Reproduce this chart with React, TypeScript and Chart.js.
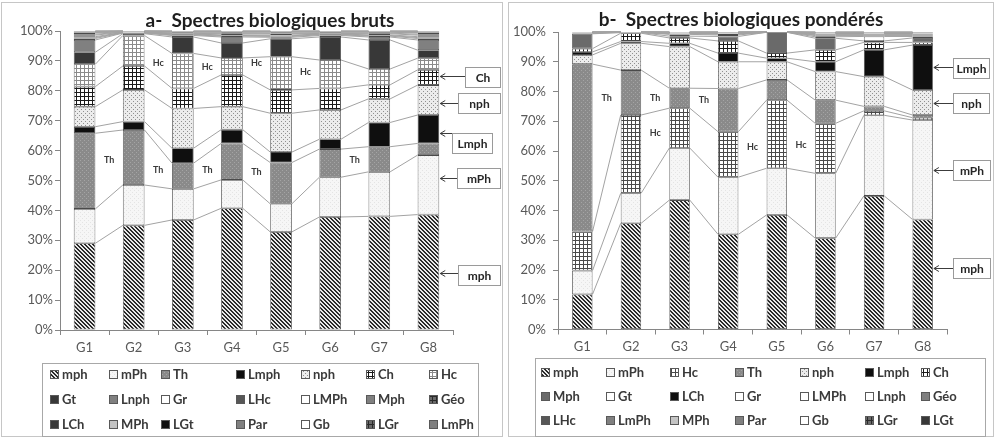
import React, { useEffect, useRef } from 'react';
import { Chart, registerables } from 'chart.js';

Chart.register(...registerables);
Chart.defaults.font.family = 'Lato, "Open Sans", sans-serif';

// ---------- categories ----------
const GROUPS = ['G1', 'G2', 'G3', 'G4', 'G5', 'G6', 'G7', 'G8'];

// ---------- a- Spectres biologiques bruts (stack order bottom -> top) ----------
const A_NAMES = ['mph', 'mPh', 'Th', 'Lmph', 'nph', 'Ch', 'Hc', 'Gt', 'Lnph', 'Gr', 'LHc', 'LMPh', 'Mph', 'Géo', 'LCh', 'MPh', 'LGt', 'Par', 'Gb', 'LGr', 'LmPh'];
const A_mph = [29, 35, 36.8, 40.7, 32.8, 37.8, 38, 38.6];
const A_mPh = [11.5, 13.5, 10.4, 9.5, 9.4, 13.3, 14.9, 19.9];
const A_Th = [25.3, 18.4, 8.6, 12.2, 13.8, 9.4, 8.4, 3.9];
const A_Lmph = [2.2, 2.8, 5, 4.6, 3.5, 3.3, 8.1, 9.5];
const A_nph = [6.7, 10.6, 13.3, 7.7, 13, 9.8, 7.9, 10];
const A_Ch = [6.7, 8, 6.7, 10.6, 7.8, 7.2, 4.7, 5.1];
const A_Hc = [7.5, 10.2, 11.7, 5.7, 11.1, 9.5, 5.3, 3.9];
const A_Gt = [4, 0.6, 5.5, 5, 6, 7.7, 9.7, 2.7];
const A_Lnph = [4.1, 0.2, 0.5, 2, 0.5, 0.5, 1, 3.4];
const A_Gr = [0.5, 0.1, 0.2, 0.3, 0.3, 0.2, 0.3, 0.5];
const A_LHc = [0.3, 0.1, 0.2, 0.2, 0.2, 0.2, 0.2, 0.3];
const A_LMPh = [0.3, 0.05, 0.1, 0.2, 0.2, 0.1, 0.2, 0.3];
const A_Mph = [0.5, 0.1, 0.2, 0.4, 0.4, 0.2, 0.4, 0.5];
const A_Geo = [0.3, 0.05, 0.1, 0.2, 0.2, 0.1, 0.2, 0.3];
const A_LCh = [0.4, 0.1, 0.3, 0.3, 0.4, 0.3, 0.3, 0.4];
const A_MPh = [0.2, 0.05, 0.1, 0.1, 0.1, 0.1, 0.1, 0.2];
const A_LGt = [0.2, 0.05, 0.1, 0.1, 0.1, 0.1, 0.1, 0.2];
const A_Par = [0.1, 0.03, 0.05, 0.05, 0.05, 0.05, 0.05, 0.1];
const A_Gb = [0.1, 0.03, 0.05, 0.05, 0.05, 0.05, 0.05, 0.1];
const A_LGr = [0.05, 0.02, 0.05, 0.05, 0.05, 0.05, 0.05, 0.05];
const A_LmPh = [0.05, 0.02, 0.05, 0.05, 0.05, 0.05, 0.05, 0.05];
const A_VALUES = [A_mph, A_mPh, A_Th, A_Lmph, A_nph, A_Ch, A_Hc, A_Gt, A_Lnph, A_Gr, A_LHc, A_LMPh, A_Mph, A_Geo, A_LCh, A_MPh, A_LGt, A_Par, A_Gb, A_LGr, A_LmPh];

// ---------- b- Spectres biologiques pondérés ----------
const B_NAMES = ['mph', 'mPh', 'Hc', 'Th', 'nph', 'Lmph', 'Ch', 'Mph', 'Gt', 'LCh', 'Gr', 'LMPh', 'Lnph', 'Géo', 'LHc', 'LmPh', 'MPh', 'Par', 'Gb', 'LGr', 'LGt'];
const B_mph = [11.8, 35.7, 43.5, 32, 38.5, 30.7, 44.9, 37];
const B_mPh = [8, 10.1, 17.5, 19.2, 15.7, 21.8, 27.1, 33.4];
const B_Hc = [13.1, 26.3, 13.4, 15.3, 22.9, 16.8, 1.5, 0.8];
const B_Th = [56.3, 15.1, 6.7, 14.5, 6.8, 7.8, 1.5, 0.9];
const B_nph = [3.1, 9, 14, 9, 6.1, 9.6, 10, 8.4];
const B_Lmph = [1, 0.6, 1.1, 2.9, 1.2, 3.3, 9, 15.1];
const B_Ch = [1.1, 2.8, 1.8, 4.1, 1.7, 4, 2.5, 0.9];
const B_Mph = [5, 0.2, 0.6, 1.5, 7, 3.9, 0.5, 1.5];
const B_Gt = [0.2, 0.05, 0.6, 0.5, 0.02, 0.5, 1.5, 0.5];
const B_LCh = [0.1, 0.03, 0.2, 0.3, 0.02, 0.4, 0.3, 0.3];
const B_Gr = [0.05, 0.02, 0.1, 0.1, 0.01, 0.2, 0.2, 0.2];
const B_LMPh = [0.05, 0.02, 0.1, 0.1, 0.01, 0.2, 0.2, 0.2];
const B_Lnph = [0.05, 0.02, 0.1, 0.1, 0.01, 0.2, 0.2, 0.2];
const B_Geo = [0.03, 0.01, 0.05, 0.1, 0.005, 0.1, 0.1, 0.1];
const B_LHc = [0.03, 0.01, 0.05, 0.1, 0.005, 0.1, 0.1, 0.1];
const B_LmPh = [0.03, 0.01, 0.05, 0.05, 0.005, 0.1, 0.1, 0.1];
const B_MPh = [0.02, 0.01, 0.05, 0.05, 0.005, 0.1, 0.1, 0.1];
const B_Par = [0.01, 0.005, 0.025, 0.025, 0.0025, 0.05, 0.05, 0.05];
const B_Gb = [0.01, 0.005, 0.025, 0.025, 0.0025, 0.05, 0.05, 0.05];
const B_LGr = [0.01, 0.005, 0.025, 0.025, 0.0025, 0.05, 0.05, 0.05];
const B_LGt = [0.01, 0.005, 0.025, 0.025, 0.0025, 0.05, 0.05, 0.05];
const B_VALUES = [B_mph, B_mPh, B_Hc, B_Th, B_nph, B_Lmph, B_Ch, B_Mph, B_Gt, B_LCh, B_Gr, B_LMPh, B_Lnph, B_Geo, B_LHc, B_LmPh, B_MPh, B_Par, B_Gb, B_LGr, B_LGt];

// ---------- annotations (values in % of the y scale) ----------
const A_CALLOUT_LABELS = ['Ch', 'nph', 'Lmph', 'mPh', 'mph'];
const A_CALLOUT_ARROW = [85, 76, 66, 50.8, 19];
const A_CALLOUT_BOX = [84.6, 75.9, 62.7, 51, 18.4];
const B_CALLOUT_LABELS = ['Lmph', 'nph', 'mPh', 'mph'];
const B_CALLOUT_ARROW = [88.2, 76.1, 53.6, 20.7];
const B_CALLOUT_BOX = [88, 76.1, 53.6, 20.7];

const A_GAP_TEXT = ['Th', 'Th', 'Th', 'Th', 'Th', 'Hc', 'Hc', 'Hc', 'Hc'];
const A_GAP_AFTER = [1, 2, 3, 4, 6, 2, 3, 4, 5];
const A_GAP_VALUE = [56.9, 53.5, 53.5, 52.8, 56.9, 89.3, 88, 89.3, 86.3];
const B_GAP_TEXT = ['Th', 'Th', 'Th', 'Hc', 'Hc', 'Hc'];
const B_GAP_AFTER = [1, 2, 3, 2, 4, 5];
const B_GAP_VALUE = [77.8, 77.8, 77.1, 66, 61.3, 62];

// ---------- styles ----------
const STYLE_A: Record<string, string> = {
  mph: 'diag', mPh: 'light', Th: 'gray', Lmph: 'black', nph: 'dots', Ch: 'gridDark', Hc: 'gridLight',
  Gt: 'dark', Lnph: 'midgray', Gr: 'white', LHc: 'darkgray', LMPh: 'white', Mph: 'midgray', 'Géo': 'darkgrid',
  LCh: 'dark', MPh: 'lightgray', LGt: 'black', Par: 'midgray', Gb: 'white', LGr: 'darkgrid', LmPh: 'midgray',
};
const STYLE_B: Record<string, string> = {
  mph: 'diag', mPh: 'light', Hc: 'gridMed', Th: 'gray', nph: 'dots', Lmph: 'black', Ch: 'gridDark',
  Mph: 'mph2', Gt: 'white', LCh: 'black', Gr: 'white', LMPh: 'white', Lnph: 'white', 'Géo': 'midgray',
  LHc: 'darkgray', LmPh: 'midgray', MPh: 'lightgray', Par: 'midgray', Gb: 'white', LGr: 'darkgrid', LGt: 'dark',
};

function makeFill(ctx: CanvasRenderingContext2D, kind: string): string | CanvasPattern {
  const solid: Record<string, string> = {
    black: '#0f0f0f', dark: '#383838', darkgray: '#575757', midgray: '#808080',
    lightgray: '#c4c4c4', white: '#ffffff', mph2: '#6a6a6a',
  };
  if (solid[kind]) return solid[kind];
  const s = 4;
  const t = document.createElement('canvas');
  t.width = s; t.height = s;
  const g = t.getContext('2d')!;
  const bg = (c: string) => { g.fillStyle = c; g.fillRect(0, 0, s, s); };
  const px = (x: number, y: number, c: string) => { g.fillStyle = c; g.fillRect(x, y, 1, 1); };
  const grid = (c: string) => { g.fillStyle = c; g.fillRect(0, 0, s, 1); g.fillRect(0, 0, 1, s); };
  switch (kind) {
    case 'diag':
      bg('#e9e9e9');
      for (let y = 0; y < s; y++) for (let x = 0; x < s; x++) if (((x - y) % 4 + 4) % 4 < 2) px(x, y, '#2a2a2a');
      break;
    case 'light':
      bg('#f6f6f6'); px(0, 0, '#e4e4e4'); px(2, 2, '#e4e4e4');
      break;
    case 'gray':
      bg('#8a8a8a'); px(0, 0, '#a4a4a4'); px(2, 2, '#a4a4a4');
      break;
    case 'dots':
      bg('#ececec'); px(1, 1, '#909090'); px(3, 3, '#909090');
      break;
    case 'gridDark':
      bg('#ffffff'); grid('#1a1a1a');
      break;
    case 'gridLight':
      bg('#ffffff'); grid('#8a8a8a');
      break;
    case 'gridMed':
      bg('#ffffff'); grid('#4a4a4a');
      break;
    case 'darkgrid':
      bg('#6a6a6a'); grid('#2a2a2a');
      break;
    default:
      bg('#ffffff');
  }
  return ctx.createPattern(t, 'repeat')!;
}

type Panel = {
  names: string[];
  values: number[][];
  styles: Record<string, string>;
  width: number; height: number;
  areaLeft: number; areaTop: number; areaRight: number; areaBottom: number;
  barPct: number; yTickPad: number;
  title: string; titleX: number; titleBase: number;
  frame: number[];
  legendBox: number[]; legendCols: number[]; legendRows: number[];
  callLabels: string[]; callArrow: number[]; callBox: number[];
  callBoxX: number[]; callBoxW: number[];
  gapText: string[]; gapAfter: number[]; gapValue: number[];
};

const X_AXIS_H = 30;

const PANEL_A: Panel = {
  names: A_NAMES, values: A_VALUES, styles: STYLE_A,
  width: 504, height: 438,
  areaLeft: 60, areaTop: 31, areaRight: 453, areaBottom: 330,
  barPct: 0.44, yTickPad: 2,
  title: 'a-  Spectres biologiques bruts', titleX: 270, titleBase: 27,
  frame: [1.5, 2.5, 501, 434],
  legendBox: [42, 363, 436, 73], legendCols: [50, 109, 161, 236, 301, 366, 429], legendRows: [374, 399, 424],
  callLabels: A_CALLOUT_LABELS, callArrow: A_CALLOUT_ARROW, callBox: A_CALLOUT_BOX,
  callBoxX: [465, 458, 452, 457, 458], callBoxW: [35, 42, 40, 43, 42],
  gapText: A_GAP_TEXT, gapAfter: A_GAP_AFTER, gapValue: A_GAP_VALUE,
};

const PANEL_B: Panel = {
  names: B_NAMES, values: B_VALUES, styles: STYLE_B,
  width: 488, height: 438,
  areaLeft: 51, areaTop: 32, areaRight: 440, areaBottom: 329.5,
  barPct: 0.42, yTickPad: 7,
  title: 'b-  Spectres biologiques pondérés', titleX: 234, titleBase: 26,
  frame: [1.5, 2.5, 485, 434],
  legendBox: [28, 358, 450, 78], legendCols: [34, 99, 163, 228, 293, 358, 414], legendRows: [372, 396, 420],
  callLabels: B_CALLOUT_LABELS, callArrow: B_CALLOUT_ARROW, callBox: B_CALLOUT_BOX,
  callBoxX: [446, 446, 446, 446], callBoxW: [36, 36, 37, 37],
  gapText: B_GAP_TEXT, gapAfter: B_GAP_AFTER, gapValue: B_GAP_VALUE,
};

function extrasPlugin(p: Panel) {
  return {
    id: 'extras',
    beforeDraw(chart: any) {
      const c = chart.ctx;
      c.save();
      c.fillStyle = '#ffffff';
      c.fillRect(0, 0, chart.width, chart.height);
      c.restore();
    },
    beforeDatasetsDraw(chart: any) {
      const c = chart.ctx;
      c.save();
      c.strokeStyle = '#a3a3a3';
      c.lineWidth = 1;
      chart.data.datasets.forEach((_: any, d: number) => {
        const meta = chart.getDatasetMeta(d);
        for (let i = 0; i < meta.data.length - 1; i++) {
          const b1 = meta.data[i];
          const b2 = meta.data[i + 1];
          c.beginPath();
          c.moveTo(b1.x + b1.width / 2, b1.y);
          c.lineTo(b2.x - b2.width / 2, b2.y);
          c.stroke();
        }
      });
      c.restore();
    },
    afterDraw(chart: any) {
      const c = chart.ctx;
      const yS = chart.scales.y;
      const meta0 = chart.getDatasetMeta(0);
      c.save();
      // frame
      c.strokeStyle = '#c6c6c6';
      c.lineWidth = 1;
      c.strokeRect(p.frame[0], p.frame[1], p.frame[2], p.frame[3]);
      // title
      c.fillStyle = '#1e1e1e';
      c.font = 'bold 19px Lato';
      c.textAlign = 'center';
      c.textBaseline = 'alphabetic';
      c.fillText(p.title, p.titleX, p.titleBase);
      // gap labels
      c.font = 'bold 9px Lato';
      c.fillStyle = '#3a3a3a';
      c.textBaseline = 'middle';
      p.gapText.forEach((t, k) => {
        const b1 = meta0.data[p.gapAfter[k] - 1];
        const b2 = meta0.data[p.gapAfter[k]];
        c.fillText(t, (b1.x + b2.x) / 2, yS.getPixelForValue(p.gapValue[k]));
      });
      // callouts
      const last = meta0.data[meta0.data.length - 1];
      const x0 = last.x + last.width / 2 + 1;
      p.callLabels.forEach((lab, k) => {
        const ay = Math.round(yS.getPixelForValue(p.callArrow[k])) + 0.5;
        const by = yS.getPixelForValue(p.callBox[k]);
        const bx = p.callBoxX[k];
        const bw = p.callBoxW[k];
        const bh = 20;
        c.strokeStyle = '#3c3c3c';
        c.lineWidth = 1;
        c.beginPath();
        c.moveTo(x0, ay);
        c.lineTo(bx, ay);
        c.stroke();
        c.beginPath();
        c.moveTo(x0 + 5, ay - 3);
        c.lineTo(x0, ay);
        c.lineTo(x0 + 5, ay + 3);
        c.stroke();
        const top = Math.round(by - bh / 2) + 0.5;
        c.fillStyle = '#ffffff';
        c.fillRect(bx + 0.5, top, bw, bh);
        c.strokeStyle = '#9a9a9a';
        c.strokeRect(bx + 0.5, top, bw, bh);
        c.fillStyle = '#262626';
        c.font = 'bold 12px Lato';
        c.textAlign = 'center';
        c.textBaseline = 'middle';
        c.fillText(lab, bx + bw / 2 + 0.5, top + bh / 2 + 0.5);
      });
      // legend
      const L = p.legendBox;
      c.strokeStyle = '#a8a8a8';
      c.lineWidth = 1;
      c.strokeRect(L[0] + 0.5, L[1] + 0.5, L[2], L[3]);
      c.font = 'bold 13px Lato';
      c.textAlign = 'left';
      c.textBaseline = 'middle';
      p.names.forEach((n, i) => {
        const r = Math.floor(i / 7);
        const col = i % 7;
        const x = p.legendCols[col];
        const y = p.legendRows[r];
        c.fillStyle = chart.data.datasets[i].backgroundColor;
        c.fillRect(x, y - 4, 9, 9);
        c.strokeStyle = '#595959';
        c.strokeRect(x + 0.5, y - 3.5, 8, 8);
        c.fillStyle = '#3a3a3a';
        c.fillText(n, x + 12, y + 0.5);
      });
      c.restore();
    },
  };
}

function buildChart(canvas: HTMLCanvasElement, p: Panel) {
  const ctx = canvas.getContext('2d')!;
  const datasets = p.names.map((n, i) => ({
    label: n,
    data: p.values[i],
    backgroundColor: makeFill(ctx, p.styles[n]),
    borderColor: '#4a4a4a',
    borderWidth: 0.8,
    borderSkipped: false,
    barPercentage: p.barPct,
    categoryPercentage: 1,
  }));
  const axisColor = '#868686';
  const tickFont = { family: 'Lato', size: 13 };
  return new Chart(canvas, {
    type: 'bar',
    data: { labels: GROUPS, datasets: datasets as any },
    options: {
      responsive: false,
      maintainAspectRatio: false,
      animation: false,
      devicePixelRatio: 1,
      layout: {
        padding: {
          left: 0,
          top: p.areaTop,
          right: p.width - p.areaRight,
          bottom: p.height - p.areaBottom - X_AXIS_H,
        },
      },
      plugins: {
        legend: { display: false },
        title: { display: false },
        tooltip: { enabled: false },
      },
      scales: {
        x: {
          stacked: true,
          afterFit: (s: any) => { s.height = X_AXIS_H; },
          grid: { display: true, drawOnChartArea: false, drawTicks: true, tickLength: 5, color: axisColor, offset: true },
          border: { display: true, color: axisColor },
          ticks: { color: '#595959', font: tickFont, padding: 5, maxRotation: 0, autoSkip: false },
        },
        y: {
          stacked: true,
          min: 0,
          max: 100,
          afterFit: (s: any) => { s.width = p.areaLeft; },
          grid: { display: true, drawOnChartArea: false, drawTicks: true, tickLength: 5, color: axisColor },
          border: { display: true, color: axisColor },
          ticks: { stepSize: 10, color: '#595959', font: tickFont, padding: p.yTickPad, callback: (v: any) => v + '%' },
        },
      },
    } as any,
    plugins: [extrasPlugin(p)],
  });
}

export default function App() {
  const refA = useRef<HTMLCanvasElement>(null);
  const refB = useRef<HTMLCanvasElement>(null);
  useEffect(() => {
    const a = buildChart(refA.current!, PANEL_A);
    const b = buildChart(refB.current!, PANEL_B);
    return () => {
      a.destroy();
      b.destroy();
    };
  }, []);
  return (
    <div style={{ position: 'fixed', left: 0, top: 0, width: 995, height: 438, background: '#fff', overflow: 'hidden' }}>
      <canvas ref={refA} width={504} height={438} style={{ position: 'absolute', left: 0, top: 0 }} />
      <canvas ref={refB} width={488} height={438} style={{ position: 'absolute', left: 507, top: 0 }} />
    </div>
  );
}
